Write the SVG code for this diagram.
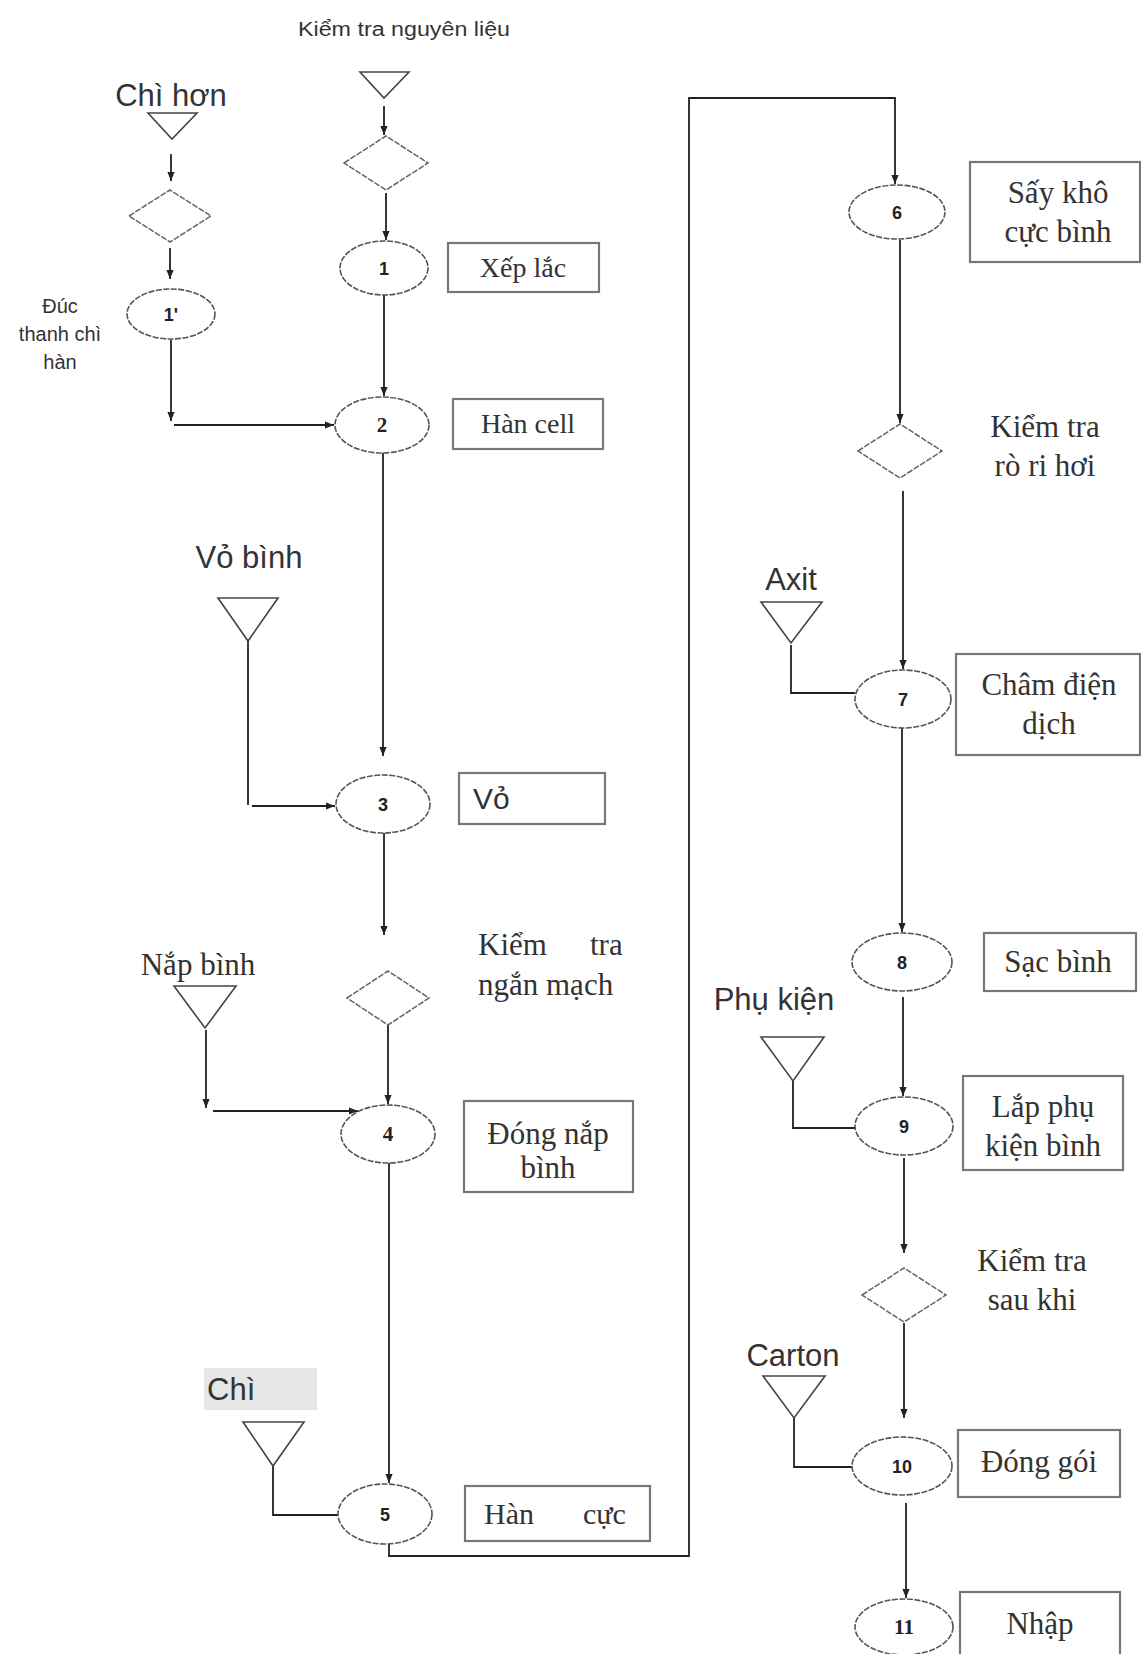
<svg xmlns="http://www.w3.org/2000/svg" width="1141" height="1654" viewBox="0 0 1141 1654">
<defs>
<marker id="ah" viewBox="0 0 10 10" refX="10" refY="5" markerWidth="9" markerHeight="10" markerUnits="userSpaceOnUse" orient="auto"><path d="M0,1 L10,5 L0,9 z" fill="#222"/></marker>
<style>
.e{fill:#fff;stroke:#555;stroke-width:1.6;stroke-dasharray:6 1.5}
.d{fill:#fff;stroke:#666;stroke-width:1.5;stroke-dasharray:6 1.5}
.t{fill:#fff;stroke:#444;stroke-width:1.6}
.b{fill:#fff;stroke:#777;stroke-width:2.2}
.c{fill:none;stroke:#222;stroke-width:1.8}
.ca{fill:none;stroke:#222;stroke-width:1.8;marker-end:url(#ah)}
.sans{font-family:"Liberation Sans",Arial,sans-serif;fill:#333}
.serif{font-family:"Liberation Serif","Times New Roman",serif;fill:#333}
.num{font-family:"Liberation Sans",Arial,sans-serif;font-size:18px;fill:#222;text-anchor:middle;font-weight:bold}
.nums{font-family:"Liberation Serif","Times New Roman",serif;font-size:21px;fill:#222;text-anchor:middle;font-weight:bold}
.mid{text-anchor:middle}
</style>
</defs>
<rect width="1141" height="1654" fill="#fff"/>

<g id="connectors">
<path class="ca" d="M171,154 V181"/>
<path class="ca" d="M170,248 V279"/>
<path class="ca" d="M171,340 V421"/>
<path class="ca" d="M174,425 H334"/>
<path class="ca" d="M384,106 V135"/>
<path class="ca" d="M386,193 V240"/>
<path class="ca" d="M384,295 V396"/>
<path class="ca" d="M383,453 V756"/>
<path class="c" d="M248,641 V805"/>
<path class="ca" d="M252,806 H335"/>
<path class="ca" d="M384,833 V935"/>
<path class="ca" d="M388,1025 V1104"/>
<path class="ca" d="M206,1030 V1108"/>
<path class="ca" d="M213,1111 H358"/>
<path class="ca" d="M389,1163 V1483"/>
<path class="c" d="M273,1466 V1515 H338"/>
<path class="ca" d="M389,1544 V1556 H689 V98 H895 V184"/>
<path class="ca" d="M900,240 V423"/>
<path class="ca" d="M903,491 V669"/>
<path class="c" d="M791,645 V693 H855"/>
<path class="ca" d="M902,728 V932"/>
<path class="c" d="M793,1081 V1128 H855"/>
<path class="ca" d="M903,997 V1096"/>
<path class="ca" d="M904,1158 V1253"/>
<path class="ca" d="M904,1323 V1418"/>
<path class="c" d="M794,1418 V1467 H852"/>
<path class="ca" d="M906,1503 V1598"/>
</g>

<g id="label-kiemtra-nguyenlieu"><text class="sans mid" x="404" y="36" font-size="20" textLength="212" lengthAdjust="spacingAndGlyphs">Kiểm tra nguyên liệu</text></g>

<g id="chi-hon">
<text class="sans mid" x="171" y="106" font-size="31">Chì hơn</text>
<polygon class="t" points="148,113 197,113 172,139"/>
</g>
<g id="check-chi-hon"><polygon class="d" points="129,216 170,190 211,216 170,242"/></g>
<g id="step-1p">
<ellipse class="e" cx="171" cy="314" rx="44" ry="25"/>
<text class="num" x="171" y="321">1'</text>
<text class="sans mid" x="60" y="313" font-size="20">Đúc</text>
<text class="sans mid" x="60" y="341" font-size="20">thanh chì</text>
<text class="sans mid" x="60" y="369" font-size="20">hàn</text>
</g>

<g id="src-nguyenlieu"><polygon class="t" points="360,72 409,72 384,98"/></g>
<g id="check-nguyenlieu"><polygon class="d" points="344,163 386,136 428,163 386,190"/></g>
<g id="step-1">
<ellipse class="e" cx="384" cy="268" rx="44" ry="27"/>
<text class="num" x="384" y="275">1</text>
<rect class="b" x="448" y="243" width="151" height="49"/>
<text class="serif mid" x="523" y="277" font-size="28">Xếp lắc</text>
</g>
<g id="step-2">
<ellipse class="e" cx="382" cy="425" rx="47" ry="28"/>
<text class="nums" x="382" y="432">2</text>
<rect class="b" x="453" y="399" width="150" height="50"/>
<text class="serif mid" x="528" y="433" font-size="28">Hàn cell</text>
</g>

<g id="vo-binh">
<text class="sans mid" x="249" y="568" font-size="31">Vỏ bình</text>
<polygon class="t" points="218,598 278,598 248,641"/>
</g>
<g id="step-3">
<ellipse class="e" cx="383" cy="804" rx="47" ry="29"/>
<text class="num" x="383" y="811">3</text>
<rect class="b" x="459" y="773" width="146" height="51"/>
<text class="sans" x="473" y="809" font-size="30">Vỏ</text>
</g>

<g id="check-nganmach">
<polygon class="d" points="347,998 388,971 429,998 388,1025"/>
<text class="serif" font-size="31" y="955"><tspan x="478">Kiểm</tspan><tspan x="590">tra</tspan></text>
<text class="serif" x="478" y="995" font-size="31">ngắn mạch</text>
</g>

<g id="nap-binh">
<text class="serif mid" x="198" y="975" font-size="31">Nắp bình</text>
<polygon class="t" points="174,986 236,986 205,1028"/>
</g>
<g id="step-4">
<ellipse class="e" cx="388" cy="1134" rx="47" ry="29"/>
<text class="nums" x="388" y="1141">4</text>
<rect class="b" x="464" y="1101" width="169" height="91"/>
<text class="serif mid" x="548" y="1144" font-size="31">Đóng nắp</text>
<text class="serif mid" x="548" y="1178" font-size="31">bình</text>
</g>

<g id="chi">
<rect x="204" y="1368" width="113" height="42" fill="#e6e6e6"/>
<text class="sans" x="207" y="1400" font-size="31">Chì</text>
<polygon class="t" points="243,1422 304,1422 273,1466"/>
</g>
<g id="step-5">
<ellipse class="e" cx="385" cy="1514" rx="47" ry="30"/>
<text class="num" x="385" y="1521">5</text>
<rect class="b" x="465" y="1486" width="185" height="55"/>
<text class="serif" font-size="30" y="1524"><tspan x="484">Hàn</tspan><tspan x="583">cực</tspan></text>
</g>

<g id="step-6">
<ellipse class="e" cx="897" cy="212" rx="48" ry="27"/>
<text class="num" x="897" y="219">6</text>
<rect class="b" x="970" y="162" width="170" height="100"/>
<text class="serif mid" x="1058" y="203" font-size="31">Sấy khô</text>
<text class="serif mid" x="1058" y="242" font-size="31">cực bình</text>
</g>
<g id="check-rori">
<polygon class="d" points="858,451 900,424 942,451 900,478"/>
<text class="serif mid" x="1045" y="437" font-size="31">Kiểm tra</text>
<text class="serif mid" x="1045" y="476" font-size="31">rò ri hơi</text>
</g>

<g id="axit">
<text class="sans mid" x="791" y="590" font-size="31">Axit</text>
<polygon class="t" points="761,602 822,602 791,643"/>
</g>
<g id="step-7">
<ellipse class="e" cx="903" cy="699" rx="48" ry="29"/>
<text class="num" x="903" y="706">7</text>
<rect class="b" x="956" y="654" width="184" height="101"/>
<text class="serif mid" x="1049" y="695" font-size="31">Châm điện</text>
<text class="serif mid" x="1049" y="734" font-size="31">dịch</text>
</g>
<g id="step-8">
<ellipse class="e" cx="902" cy="962" rx="50" ry="29"/>
<text class="num" x="902" y="969">8</text>
<rect class="b" x="984" y="933" width="152" height="58"/>
<text class="serif mid" x="1058" y="972" font-size="31">Sạc bình</text>
</g>

<g id="phu-kien">
<text class="sans mid" x="774" y="1010" font-size="31">Phụ kiện</text>
<polygon class="t" points="761,1037 824,1037 793,1081"/>
</g>
<g id="step-9">
<ellipse class="e" cx="904" cy="1126" rx="49" ry="29"/>
<text class="num" x="904" y="1133">9</text>
<rect class="b" x="963" y="1076" width="160" height="94"/>
<text class="serif mid" x="1043" y="1117" font-size="31">Lắp phụ</text>
<text class="serif mid" x="1043" y="1156" font-size="31">kiện bình</text>
</g>
<g id="check-saukhi">
<polygon class="d" points="862,1295 904,1268 946,1295 904,1322"/>
<text class="serif mid" x="1032" y="1271" font-size="31">Kiểm tra</text>
<text class="serif mid" x="1032" y="1310" font-size="31">sau khi</text>
</g>

<g id="carton">
<text class="sans mid" x="793" y="1366" font-size="31">Carton</text>
<polygon class="t" points="763,1376 825,1376 794,1418"/>
</g>
<g id="step-10">
<ellipse class="e" cx="902" cy="1466" rx="50" ry="29"/>
<text class="num" x="902" y="1473">10</text>
<rect class="b" x="958" y="1430" width="162" height="67"/>
<text class="serif mid" x="1039" y="1472" font-size="31">Đóng gói</text>
</g>
<g id="step-11">
<ellipse class="e" cx="904" cy="1627" rx="49" ry="28"/>
<text class="nums" x="904" y="1634">11</text>
<rect class="b" x="960" y="1592" width="160" height="80"/>
<text class="serif mid" x="1040" y="1634" font-size="31">Nhập</text>
</g>
</svg>
